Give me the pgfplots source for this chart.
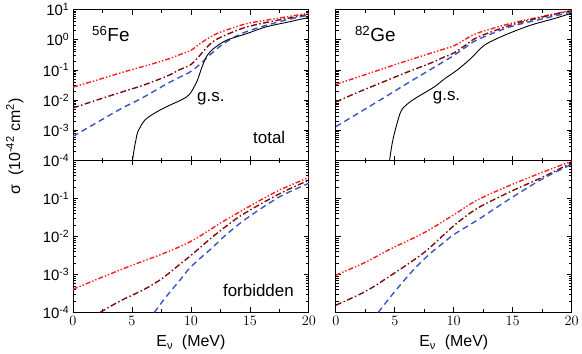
\documentclass[border=0pt]{standalone}
\usepackage{fontspec}
\setmainfont{Liberation Sans}
\usepackage{pgfplots}
\pgfplotsset{compat=1.18}
\usepgfplotslibrary{groupplots}

\definecolor{cred}{RGB}{250,30,35}
\definecolor{cdark}{RGB}{125,10,10}
\definecolor{cblue}{RGB}{55,85,195}

\pgfplotsset{
  qrpa/.style={cred, smooth, line width=1.4pt, dash pattern=on 5pt off 2pt on 1.4pt off 2pt on 1.4pt off 2pt},
  ddot/.style={cdark, smooth, line width=1.4pt, dash pattern=on 6pt off 2.5pt on 1.5pt off 2.5pt},
  bdash/.style={cblue, smooth, line width=1.4pt, dash pattern=on 6pt off 4pt},
  gs/.style={black, smooth, line width=0.9pt},
}
\tikzset{
  txt/.style={font=\fontsize{17}{18}\selectfont, anchor=base west, inner sep=0pt},
  nuc/.style={font=\fontsize{19}{20}\selectfont, anchor=base west, inner sep=0pt},
}

\begin{document}
\begin{tikzpicture}
\begin{groupplot}[
  group style={group size=2 by 2, horizontal sep=27bp, vertical sep=0pt},
  scale only axis, width=236bp,
  xmin=0, xmax=20, ymode=log,
  xtick={0,5,10,15,20}, minor x tick num=1,
  major tick length=5bp, minor tick length=3bp,
  every axis/.append style={line width=0.8pt},
  tick style={line width=0.7pt, black},
  tick label style={font=\fontsize{15}{16}\selectfont},
  label style={font=\fontsize{16}{17}\selectfont},
  xlabel style={yshift=-3bp},
]
% 56Fe total
\nextgroupplot[height=151bp, ymin=1e-4, ymax=1e1, xticklabels={},
  ytick={1e-4,1e-3,1e-2,1e-1,1e0,1e1},
  yticklabels={10\textsuperscript{-4},10\textsuperscript{-3},10\textsuperscript{-2},10\textsuperscript{-1},10\textsuperscript{0},10\textsuperscript{1}}]
\addplot[qrpa] coordinates {(0,2.69e-2) (2,4.57e-2) (4,7.94e-2) (6,1.32e-1) (8,2.24e-1) (9,3.16e-1) (10,4.47e-1) (10.8,7.59e-1) (11.6,1.20) (12.5,1.78) (14.7,3.39) (17.5,5.25) (20,7.59)};
\addplot[ddot] coordinates {(0,5.50e-3) (2,1.0e-2) (4,1.78e-2) (6,3.16e-2) (8,6.31e-2) (9,1.0e-1) (10,1.51e-1) (10.8,3.16e-1) (11.6,7.08e-1) (12.5,1.20) (14.7,2.63) (17.5,4.57) (20,6.92)};
\addplot[bdash] coordinates {(0,6.31e-4) (2,1.78e-3) (4,5.01e-3) (6,1.26e-2) (8,3.55e-2) (9,5.62e-2) (10,8.91e-2) (10.8,1.585e-1) (11.9,3.98e-1) (13,8.51e-1) (14.7,1.86) (17.5,3.98) (20,6.61)};
\addplot[gs] coordinates {(5.05,1e-4) (5.2,2.51e-4) (5.35,5.01e-4) (5.5,8.91e-4) (6.1,2.19e-3) (7.1,4.07e-3) (8.2,6.76e-3) (9.3,1.07e-2) (9.9,1.585e-2) (10.5,4.07e-2) (10.9,1.12e-1) (11.3,2.69e-1) (11.9,5.01e-1) (13,9.55e-1) (14.7,1.585) (16.4,2.69) (18.4,3.98) (20,5.50)};
\node[nuc] at (axis cs:1.6,0.87) {\textsuperscript{56}Fe};
\node[txt] at (axis cs:10.5,8.9e-3) {g.s.};
\node[txt] at (axis cs:15.25,3.6e-4) {total};

% 82Ge total
\nextgroupplot[height=151bp, ymin=1e-4, ymax=1e1, xticklabels={}, yticklabels={},
  ytick={1e-4,1e-3,1e-2,1e-1,1e0,1e1}]
\addplot[qrpa] coordinates {(0,3.31e-2) (2,6.03e-2) (4,1.10e-1) (6,2.0e-1) (8,3.55e-1) (10,6.31e-1) (11,1.047) (12,1.66) (14.8,3.47) (17.6,6.03) (20,9.55)};
\addplot[ddot] coordinates {(0,8.71e-3) (2,1.91e-2) (4,3.98e-2) (6,8.32e-2) (8,1.66e-1) (9.2,2.69e-1) (10,3.63e-1) (11,6.61e-1) (12,1.20) (14.8,3.02) (17.6,5.75) (20,9.12)};
\addplot[bdash] coordinates {(0,1.32e-3) (2,3.89e-3) (4,1.15e-2) (6,3.47e-2) (8,1.02e-1) (9.2,1.95e-1) (10,3.02e-1) (11,5.62e-1) (12,1.0) (14.8,2.69) (17.6,5.01) (20,8.32)};
\addplot[gs] coordinates {(4.56,1e-4) (4.75,3.16e-4) (5.0,8.91e-4) (5.5,4.07e-3) (6.0,7.08e-3) (6.7,1.12e-2) (8.35,2.75e-2) (9.2,5.01e-2) (10.3,1.0e-1) (11.45,2.40e-1) (12.6,6.61e-1) (14.3,1.41) (16.5,3.02) (18.5,5.01) (20,7.59)};
\node[nuc] at (axis cs:1.6,0.87) {\textsuperscript{82}Ge};
\node[txt] at (axis cs:8.2,1e-2) {g.s.};

% 56Fe forbidden
\nextgroupplot[height=152bp, ymin=1e-4, ymax=1e0,
  xlabel={E\textsubscript{ν}~~(MeV)},
  ytick={1e-4,1e-3,1e-2,1e-1,1e0},
  yticklabels={10\textsuperscript{-4},10\textsuperscript{-3},10\textsuperscript{-2},10\textsuperscript{-1},}]
\addplot[qrpa] coordinates {(0,4.07e-4) (2.5,8.51e-4) (5,1.74e-3) (7.5,3.39e-3) (10,7.41e-3) (12.5,2.24e-2) (15,6.31e-2) (17.5,1.66e-1) (20,3.55e-1)};
\addplot[ddot] coordinates {(2.3,1e-4) (4,2.0e-4) (6,3.98e-4) (7.5,7.59e-4) (9,1.78e-3) (10,3.16e-3) (12,1.07e-2) (14,3.16e-2) (16,7.41e-2) (18,1.585e-1) (20,3.02e-1)};
\addplot[bdash] coordinates {(6.9,1e-4) (8,2.82e-4) (9.07,7.08e-4) (10,1.585e-3) (11.9,5.37e-3) (13,1.12e-2) (14.7,2.95e-2) (17.5,1.10e-1) (20,2.51e-1)};
\node[txt] at (axis cs:12.7,2.6e-4) {forbidden};

% 82Ge forbidden
\nextgroupplot[height=152bp, ymin=1e-4, ymax=1e0, yticklabels={},
  xlabel={E\textsubscript{ν}~~(MeV)},
  ytick={1e-4,1e-3,1e-2,1e-1,1e0}]
\addplot[qrpa] coordinates {(0,9.55e-4) (2.5,2.09e-3) (4.7,4.79e-3) (7.5,1.26e-2) (10,3.72e-2) (12,9.12e-2) (14.8,2.24e-1) (17.6,5.01e-1) (20,9.55e-1)};
\addplot[ddot] coordinates {(0,1.55e-4) (2.5,3.55e-4) (4.7,9.55e-4) (7.5,3.80e-3) (10,1.91e-2) (12,5.50e-2) (14.8,1.51e-1) (17.6,3.72e-1) (20,8.71e-1)};
\addplot[bdash] coordinates {(3.6,1e-4) (5,3.55e-4) (6.7,1.445e-3) (8,3.55e-3) (9.2,7.08e-3) (10,1.12e-2) (12,2.69e-2) (14.8,1.0e-1) (17.6,3.39e-1) (20,7.94e-1)};
\end{groupplot}
\node[rotate=90, anchor=north, inner sep=0pt, font=\fontsize{16}{17}\selectfont]
  at ([xshift=-67bp, yshift=14bp]group c1r1.south west) {σ~~(10\textsuperscript{-42} cm\textsuperscript{2})};
\path ([xshift=-73bp]group c1r1.south west);
\end{tikzpicture}
\end{document}
